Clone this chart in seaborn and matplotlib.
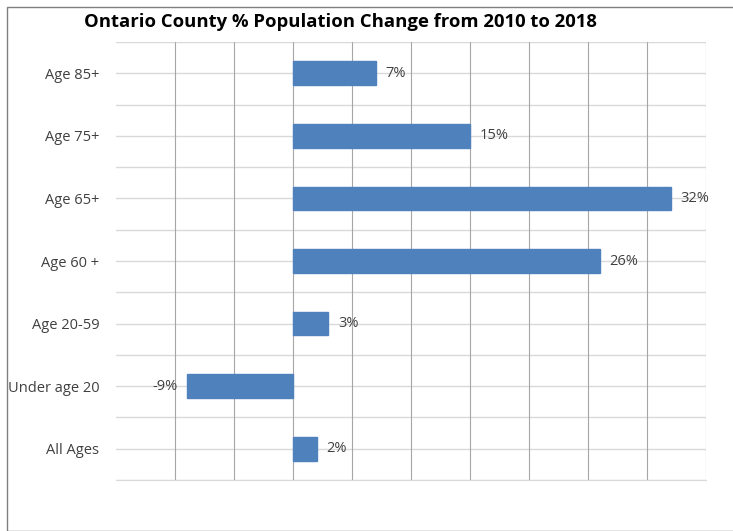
import matplotlib.pyplot as plt
import seaborn as sns
import pandas as pd
from matplotlib.patches import Rectangle

# data (top to bottom)
categories = ['Age 85+', 'Age 75+', 'Age 65+', 'Age 60 +', 'Age 20-59', 'Under age 20', 'All Ages']
pct_change = [7, 15, 32, 26, 3, -9, 2]

df = pd.DataFrame({'Group': categories, 'Change': pct_change})

sns.set_style('white')
plt.rcParams['font.family'] = ['Open Sans', 'DejaVu Sans']

fig = plt.figure(figsize=(7.33, 5.31), dpi=100)
ax = fig.add_axes([116 / 733, 1 - 480 / 531, 590 / 733, 438 / 531])

sns.barplot(data=df, y='Group', x='Change', orient='h', color='#4F81BD',
            width=0.38, saturation=1, ax=ax, zorder=3, edgecolor='#4F81BD')

ax.set_xlim(-15, 35)
ax.set_ylim(len(categories) - 0.5, -0.5)

# grid: darker verticals every 5%, light horizontals every half category
for xv in range(-10, 40, 5):
    ax.axvline(xv, color='#a6a6a6', lw=0.8, zorder=1)
for yv in [i * 0.5 - 0.5 for i in range(2 * len(categories) + 1)]:
    ax.axhline(yv, color='#d9d9d9', lw=1.0, zorder=0)

for s in ['top', 'left', 'right']:
    ax.spines[s].set_visible(False)
ax.spines['bottom'].set_color('#d9d9d9')

ax.set_xticks([])
ax.set_xlabel('')
ax.set_ylabel('')
ax.tick_params(axis='y', length=0, pad=12, labelsize=10.5, labelcolor='#404040')

for i, v in enumerate(pct_change):
    if v >= 0:
        ax.text(v + 0.8, i, f'{v}%', va='center', ha='left', fontsize=10.5, color='#404040')
    else:
        ax.text(v - 0.8, i, f'{v}%', va='center', ha='right', fontsize=10.5, color='#404040')

fig.text(340 / 733, 1 - 22 / 531, 'Ontario County % Population Change from 2010 to 2018',
         ha='center', va='center', fontsize=13.3, fontweight='bold', color='#000000')

# outer chart border
fig.patches.append(Rectangle((7 / 733, 0), 1, 1 - 7 / 531, transform=fig.transFigure,
                             fill=False, edgecolor='#7f7f7f', lw=1))

fig.savefig('out.png', dpi=100)
